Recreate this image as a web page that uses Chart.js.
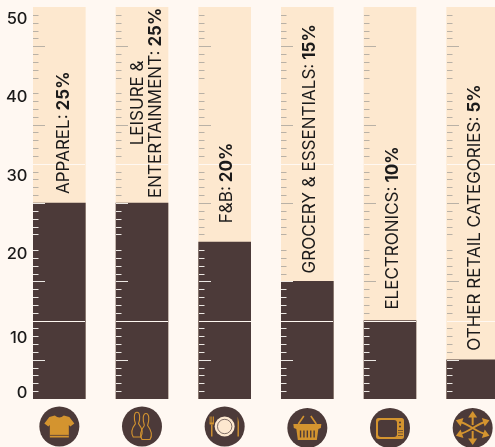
<!DOCTYPE html>
<html>
<head>
<meta charset="utf-8">
<style>
  html, body { margin: 0; padding: 0; width: 495px; height: 447px; overflow: hidden; background: #fff8f2; }
  canvas { display: block; }
</style>
<script src="https://cdn.jsdelivr.net/npm/chart.js@4"></script>
</head>
<body>
<canvas id="retailChart" width="514" height="447"></canvas>
<script>
const categories = [
  ['APPAREL:'],
  ['LEISURE &', 'ENTERTAINMENT:'],
  ['F&B:'],
  ['GROCERY & ESSENTIALS:'],
  ['ELECTRONICS:'],
  ['OTHER RETAIL CATEGORIES:']
];
const shares = [25, 25, 20, 15, 10, 5];
const ruler = [50, 50, 50, 50, 50, 50];
const tickLabels = ['0', '10', '20', '30', '40', '50'];
// the numbers sit a little off their ruler marks
const tickLabelAt = [0.8, 7.8, 18.5, 28.4, 38.5, 48.4];

const DARK = '#4c3a39';
const CREAM = '#fde8cf';
const GOLD = '#d4942f';
const INK = '#1b1a1a';
const FONT = 'Inter, sans-serif';

// gap in px between the top of a bar and the start of its caption
const captionGap = [9, 5, 19, 8, 11, 9];

function drawCaption(ctx, lines, share, x, y) {
  ctx.save();
  ctx.translate(x, y);
  ctx.rotate(-Math.PI / 2);
  ctx.textBaseline = 'middle';
  ctx.textAlign = 'left';
  ctx.fillStyle = INK;
  const lineGap = 18;
  const regular = '400 17px ' + FONT;
  const bold = '700 17px ' + FONT;
  const pct = ' ' + share + '%';

  ctx.font = regular;
  const lastW = ctx.measureText(lines[lines.length - 1]).width;
  ctx.font = bold;
  const pctW = ctx.measureText(pct).width;
  const fullW = lastW + pctW;

  lines.forEach(function (line, i) {
    const dy = (i - (lines.length - 1) / 2) * lineGap;
    const last = i === lines.length - 1;
    ctx.font = regular;
    const w = last ? fullW : ctx.measureText(line).width;
    ctx.fillText(line, (fullW - w) / 2, dy);
    if (last) {
      ctx.font = bold;
      ctx.fillText(pct, lastW, dy);
    }
  });
  ctx.restore();
}

// icons, one per category, centred on 0,0
const icons = [
  function shirt(ctx) {
    ctx.fillStyle = GOLD;
    ctx.beginPath();
    ctx.moveTo(-4.5, -11);
    ctx.quadraticCurveTo(0, -7, 4.5, -11);
    ctx.lineTo(10, -9.5);
    ctx.lineTo(15, -3);
    ctx.lineTo(11, 0);
    ctx.lineTo(9.5, -1.5);
    ctx.lineTo(9.5, 11);
    ctx.lineTo(-9.5, 11);
    ctx.lineTo(-9.5, -1.5);
    ctx.lineTo(-11, 0);
    ctx.lineTo(-15, -3);
    ctx.lineTo(-10, -9.5);
    ctx.closePath();
    ctx.fill();
    ctx.fillStyle = DARK;
    ctx.fillRect(-9.5, 8.4, 19, 0.8);
  },
  function pins(ctx) {
    ctx.strokeStyle = GOLD;
    ctx.lineWidth = 1.1;
    const pin = function (x, y, s) {
      ctx.beginPath();
      ctx.moveTo(x - 1.6 * s, y + 6 * s);
      ctx.bezierCurveTo(x - 3.4 * s, y + 1 * s, x - 3.4 * s, y - 6 * s, x, y - 6 * s);
      ctx.bezierCurveTo(x + 3.4 * s, y - 6 * s, x + 3.4 * s, y + 1 * s, x + 1.6 * s, y + 6 * s);
      ctx.bezierCurveTo(x + 5.5 * s, y + 11 * s, x + 6.5 * s, y + 16 * s, x + 4 * s, y + 20 * s);
      ctx.lineTo(x - 4 * s, y + 20 * s);
      ctx.bezierCurveTo(x - 6.5 * s, y + 16 * s, x - 5.5 * s, y + 11 * s, x - 1.6 * s, y + 6 * s);
      ctx.stroke();
    };
    pin(-5, -8.5, 0.95);
    pin(4, -7, 1);
  },
  function plate(ctx) {
    ctx.fillStyle = CREAM;
    ctx.beginPath();
    ctx.arc(0, 0, 10, 0, Math.PI * 2);
    ctx.fill();
    ctx.strokeStyle = DARK;
    ctx.lineWidth = 0.7;
    ctx.beginPath();
    ctx.arc(0, 0, 7.2, 0, Math.PI * 2);
    ctx.stroke();
    ctx.fillStyle = GOLD;
    ctx.fillRect(-13.6, -2, 1.4, 12);
    ctx.fillRect(-15, -10, 0.9, 7);
    ctx.fillRect(-13.3, -10, 0.9, 7);
    ctx.fillRect(-11.7, -10, 0.9, 7);
    ctx.fillRect(-15, -4, 4.2, 2);
    ctx.beginPath();
    ctx.moveTo(13, -10);
    ctx.quadraticCurveTo(15, -4, 14.2, 1);
    ctx.lineTo(14.2, 10);
    ctx.lineTo(12.8, 10);
    ctx.closePath();
    ctx.fill();
  },
  function basket(ctx) {
    ctx.strokeStyle = GOLD;
    ctx.lineWidth = 1.6;
    ctx.beginPath();
    ctx.moveTo(-9, -4);
    ctx.lineTo(-3.5, -12);
    ctx.moveTo(9, -4);
    ctx.lineTo(3.5, -12);
    ctx.stroke();
    ctx.fillStyle = GOLD;
    ctx.beginPath();
    ctx.moveTo(-14, -4);
    ctx.lineTo(14, -4);
    ctx.lineTo(13.5, 0);
    ctx.lineTo(11, 1);
    ctx.lineTo(9.5, 12);
    ctx.lineTo(-9.5, 12);
    ctx.lineTo(-11, 1);
    ctx.lineTo(-13.5, 0);
    ctx.closePath();
    ctx.fill();
    ctx.fillStyle = DARK;
    for (let i = -2; i <= 2; i++) ctx.fillRect(i * 3.4 - 0.7, 2.5, 1.4, 7);
  },
  function television(ctx) {
    ctx.fillStyle = GOLD;
    ctx.beginPath();
    ctx.roundRect(-14, -10, 28, 21, 2.5);
    ctx.fill();
    ctx.fillStyle = DARK;
    ctx.beginPath();
    ctx.roundRect(-12, -8, 19, 17, 3);
    ctx.fill();
    ctx.beginPath();
    ctx.arc(10, -5.5, 1.1, 0, Math.PI * 2);
    ctx.arc(10, -1.5, 1.1, 0, Math.PI * 2);
    ctx.fill();
    ctx.fillRect(8, 2, 5, 0.7);
    ctx.fillRect(8, 4.5, 5, 0.7);
    ctx.fillRect(8, 7, 5, 0.7);
  },
  function arrows(ctx) {
    ctx.strokeStyle = GOLD;
    ctx.fillStyle = GOLD;
    ctx.lineWidth = 2;
    ctx.beginPath();
    ctx.moveTo(-13, -6);
    ctx.bezierCurveTo(-5, -5, 5, 5, 13, 6);
    ctx.moveTo(13, -6);
    ctx.bezierCurveTo(5, -5, -5, 5, -13, 6);
    ctx.moveTo(0, -12);
    ctx.lineTo(0, -3);
    ctx.moveTo(0, 3);
    ctx.lineTo(0, 12);
    ctx.stroke();
    const heads = [[0, -13, 0], [0, 13, Math.PI], [-13, -6.5, -1.25], [13, -6.5, 1.25], [-13, 6.5, -1.9], [13, 6.5, 1.9]];
    heads.forEach(function (h) {
      ctx.save();
      ctx.translate(h[0], h[1]);
      ctx.rotate(h[2]);
      ctx.beginPath();
      ctx.moveTo(0, -4);
      ctx.lineTo(4.5, 2.5);
      ctx.lineTo(-4.5, 2.5);
      ctx.closePath();
      ctx.fill();
      ctx.restore();
    });
  }
];
const iconDrop = [0, 0, 0, 1.5, 1.5, 1.5];

// axis numbers, ruler marks, separators, captions and round icons
const rulerPlugin = {
  id: 'rulerPlugin',
  afterDatasetsDraw(chart) {
    const ctx = chart.ctx;
    const x = chart.scales.x;
    const y = chart.scales.y;
    const half = 26;

    // the axis would clip these at its own box, they reach past the plot edge
    ctx.save();
    ctx.fillStyle = INK;
    ctx.font = '500 16.5px ' + FONT;
    ctx.textAlign = 'right';
    ctx.textBaseline = 'middle';
    tickLabels.forEach(function (label, i) {
      ctx.fillText(label, 27.5, y.getPixelForValue(tickLabelAt[i]));
    });
    ctx.restore();

    categories.forEach(function (lines, i) {
      const cx = x.getPixelForValue(i);
      const left = Math.round(cx - half);

      for (let v = 1; v < 50; v++) {
        if (v % 10 === 0) continue;
        const py = Math.round(y.getPixelForValue(v)) + 0.5;
        ctx.strokeStyle = v <= shares[i] ? '#ece8e4' : '#b9b1a6';
        ctx.lineWidth = 1;
        ctx.beginPath();
        ctx.moveTo(left, py);
        ctx.lineTo(left + (v % 5 === 0 ? 12 : 5.5), py);
        ctx.stroke();
      }

      ctx.strokeStyle = '#fff8f2';
      ctx.lineWidth = 1;
      [10, 30].forEach(function (v) {
        const py = Math.round(y.getPixelForValue(v)) + 0.5;
        ctx.beginPath();
        ctx.moveTo(left, py);
        ctx.lineTo(left + half * 2, py);
        ctx.stroke();
      });

      const captionX = cx + (lines.length > 1 ? 4.5 : i === 0 ? 5 : 2.5);
      drawCaption(ctx, lines, shares[i], captionX, y.getPixelForValue(shares[i]) - captionGap[i]);

      const iy = 426.5 + iconDrop[i];
      ctx.fillStyle = DARK;
      ctx.beginPath();
      ctx.arc(cx, iy, 20, 0, Math.PI * 2);
      ctx.fill();
      ctx.save();
      ctx.translate(cx, iy);
      icons[i](ctx);
      ctx.restore();
    });
  }
};

new Chart(document.getElementById('retailChart').getContext('2d'), {
  type: 'bar',
  data: {
    labels: categories.map(function (c) { return c.join(' '); }),
    datasets: [
      { data: shares, backgroundColor: DARK, grouped: false, order: 1, barThickness: 52 },
      { data: ruler, backgroundColor: CREAM, grouped: false, order: 2, barThickness: 52 }
    ]
  },
  plugins: [rulerPlugin],
  options: {
    responsive: false,
    animation: false,
    events: [],
    layout: { padding: { top: 7, bottom: 48, left: 18, right: 0 } },
    plugins: { legend: { display: false }, tooltip: { enabled: false } },
    scales: {
      x: { display: false },
      y: { display: false, min: 0, max: 50 }
    }
  }
});
</script>
</body>
</html>
